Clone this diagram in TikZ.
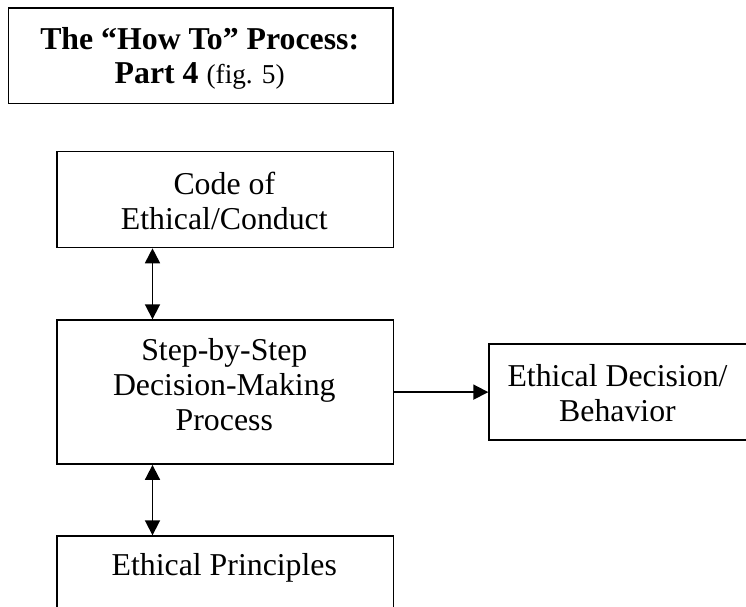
\documentclass[tikz,border=0pt]{standalone}
\usepackage{fontspec}
\setmainfont{Liberation Serif}
\usetikzlibrary{arrows.meta}
\begin{document}
\begin{tikzpicture}[x=1pt,y=-1pt,
  box/.style={draw,line width=1.6pt,inner sep=0pt,anchor=north west,minimum width=336.7pt},
  % text nodes are placed by the baseline of their last line
  txt/.style={font=\fontsize{31.8}{35}\selectfont,align=center,anchor=base,inner sep=0pt},
  link/.style={line width=1.8pt},
  onetip/.style={link,-{Triangle[length=15pt,width=15pt]}},
  twotips/.style={link,{Triangle[length=15pt,width=15pt]}-{Triangle[length=15pt,width=15pt]}}
]
\useasboundingbox (0,0) rectangle (746,606);
\clip (0,0) rectangle (746,606);

% title panel
\node[box,minimum width=384.5pt,minimum height=95.4pt] (title) at (7.5,7.3) {};
\node[txt,font=\bfseries\fontsize{31.8}{34}\selectfont] (titletext) at (199.7,83.3)
  {The “How To” Process:\\Part 4 {\mdseries\fontsize{27.3}{34}\selectfont(fig. 5)}};

% flow boxes
\node[box,minimum height=96pt] (code) at (56,150.7) {};
\node[txt] (codetext) at (224.3,229.3) {Code of\\Ethical/Conduct};

\node[box,minimum height=144pt] (step) at (56,319.3) {};
\node[txt] (steptext) at (224.3,430) {Step-by-Step\\Decision-Making\\Process};

\node[box,minimum height=96pt] (princ) at (56,535.3) {};
\node[txt] (princtext) at (224.3,575) {Ethical Principles};

\node[box,minimum width=260pt,minimum height=96pt] (result) at (488.3,343.3) {};
\node[txt] (resulttext) at (617.5,421) {Ethical Decision/\\Behavior};

% connectors
\coordinate (ax) at (152.5,0);
\draw[twotips] (code.south -| ax) -- (step.north -| ax);
\draw[twotips] (step.south -| ax) -- (princ.north -| ax);
\draw[onetip] (step.east) -- (result.west);
\end{tikzpicture}
\end{document}
